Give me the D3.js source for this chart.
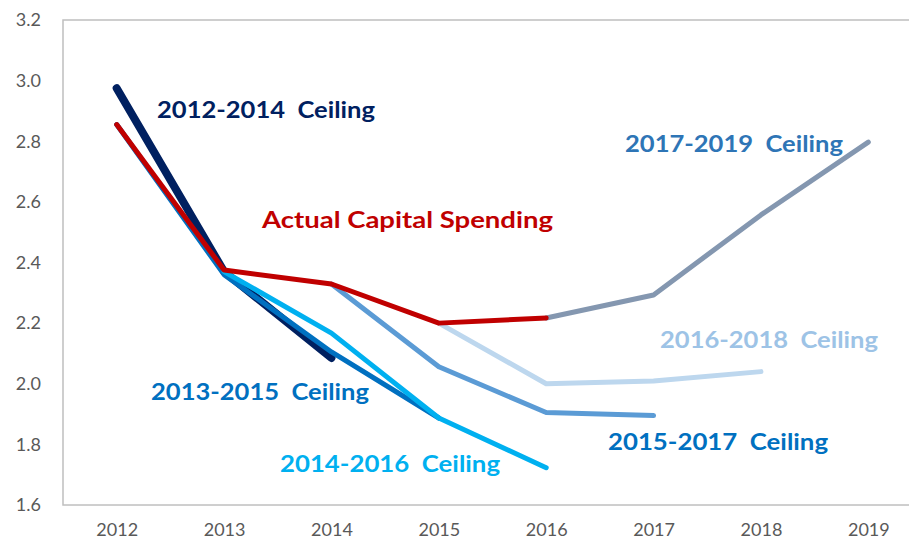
<!DOCTYPE html>
<html>
<head>
<meta charset="utf-8">
<script src="https://cdn.jsdelivr.net/npm/d3@7"></script>
<style>
	body { margin: 0; background: #fff; }
	text { font-family: Lato, "Open Sans", sans-serif; }
</style>
</head>
<body>
<div id="chart"></div>
<script>
var years = ["2012", "2013", "2014", "2015", "2016", "2017", "2018", "2019"];
var yTicks = [1.6, 1.8, 2.0, 2.2, 2.4, 2.6, 2.8, 3.0, 3.2];

// values per year, null where the series has no point
var ceiling1214 = [2.975, 2.37, 2.085, null, null, null, null, null];
var ceiling1315 = [2.855, 2.36, 2.105, 1.887, null, null, null, null];
var ceiling1416 = [null, 2.37, 2.167, 1.887, 1.723, null, null, null];
var ceiling1517 = [null, null, 2.329, 2.056, 1.905, 1.895, null, null];
var ceiling1618 = [null, null, null, 2.2, 2.0, 2.009, 2.04, null];
var ceiling1719 = [null, null, null, null, 2.217, 2.293, 2.557, 2.797];
var actual = [2.855, 2.375, 2.329, 2.2, 2.217, null, null, null];

var labels = ["2012-2014 Ceiling", "2013-2015 Ceiling", "2014-2016 Ceiling",
	"2015-2017 Ceiling", "2016-2018 Ceiling", "2017-2019 Ceiling", "Actual Capital Spending"];

var width = 909,
	height = 548;

var plotLeft = 63,
	plotRight = 922,
	plotTop = 20,
	plotBottom = 505;

var svg = d3.select("#chart")
	.append("svg")
		.attr("width", width)
		.attr("height", height);

var x = d3.scalePoint()
	.domain(years)
	.range([plotLeft, plotRight])
	.padding(0.5);

var y = d3.scaleLinear()
	.domain([1.6, 3.2])
	.range([plotBottom, plotTop]);

// plot frame
svg.append("rect")
	.attr("x", plotLeft)
	.attr("y", plotTop)
	.attr("width", plotRight - plotLeft)
	.attr("height", plotBottom - plotTop)
	.attr("fill", "none")
	.attr("stroke", "#bfbfbf")
	.attr("stroke-width", 1.5);

var yAxis = svg.append("g")
	.attr("transform", "translate(" + 41 + ",0)")
	.call(d3.axisLeft(y).tickValues(yTicks).tickSize(0).tickPadding(0).tickFormat(d3.format(".1f")));
yAxis.select(".domain").remove();
yAxis.selectAll("text")
	.attr("fill", "#595959")
	.style("font-size", "18px");

var xAxis = svg.append("g")
	.attr("transform", "translate(0," + 523 + ")")
	.call(d3.axisBottom(x).tickSize(0).tickPadding(0));
xAxis.select(".domain").remove();
xAxis.selectAll("text")
	.attr("fill", "#595959")
	.style("font-size", "18px");

var series = [
	{values: ceiling1214, color: "#002060", width: 8},
	{values: ceiling1315, color: "#0070c0", width: 5},
	{values: ceiling1416, color: "#00b0f0", width: 5},
	{values: ceiling1517, color: "#5b9bd5", width: 5},
	{values: ceiling1618, color: "#bdd7ee", width: 5},
	{values: ceiling1719, color: "#8497b0", width: 5},
	{values: actual, color: "#c00000", width: 5}
];

var line = d3.line()
	.defined(function(d) { return d != null; })
	.x(function(d, i) { return x(years[i]); })
	.y(function(d) { return y(d); });

svg.append("g")
	.selectAll("path")
	.data(series)
	.join("path")
		.attr("d", function(s) { return line(s.values); })
		.attr("fill", "none")
		.attr("stroke", function(s) { return s.color; })
		.attr("stroke-width", function(s) { return s.width; })
		.attr("stroke-linecap", "round")
		.attr("stroke-linejoin", "round");

// series labels placed next to their lines
var labelSpots = [
	{text: labels[0], x: 157, y: 118, w: 218, color: "#002060"},
	{text: labels[1], x: 151, y: 400, w: 218, color: "#0070c0"},
	{text: labels[2], x: 280, y: 472, w: 220, color: "#00b0f0"},
	{text: labels[3], x: 608, y: 450, w: 220, color: "#0070c0"},
	{text: labels[4], x: 660, y: 348, w: 218, color: "#9dc3e6"},
	{text: labels[5], x: 625, y: 152, w: 218, color: "#2e75b6"},
	{text: labels[6], x: 262, y: 228, w: 291, color: "#c00000"}
];

svg.append("g")
	.selectAll("text")
	.data(labelSpots)
	.join("text")
		.attr("x", function(d) { return d.x; })
		.attr("y", function(d) { return d.y; })
		.attr("fill", function(d) { return d.color; })
		.attr("textLength", function(d) { return d.w; })
		.attr("lengthAdjust", "spacingAndGlyphs")
		.style("font-size", "23px")
		.style("font-weight", "bold")
		.style("white-space", "pre")
		.text(function(d) { return d.text.replace(" Ceiling", "  Ceiling"); });
</script>
</body>
</html>
